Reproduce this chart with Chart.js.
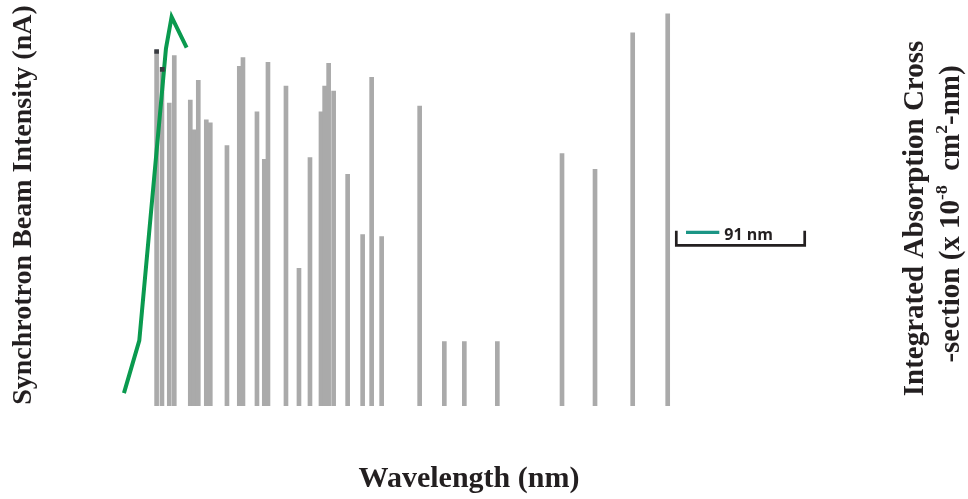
<!DOCTYPE html>
<html><head><meta charset="utf-8">
<script src="https://cdn.jsdelivr.net/npm/chart.js@4.4.1/dist/chart.umd.min.js"></script>
<style>html,body{margin:0;padding:0;background:#fff}#wrap{width:968px;height:499px;position:relative}</style>
</head><body><div id="wrap"><canvas id="c"></canvas></div>
<script>
// Absorption lines: wavelength (nm) and integrated absorption cross-section (x10^-8 cm^2-nm)
const lineWavelengths = [93.6, 95.2, 97.4, 98.9, 103.7, 104.9, 106.1, 108.5, 109.7, 114.7,
  118.4, 119.5, 123.7, 125.9, 127.0, 132.4, 136.3, 139.6, 142.9, 144.0, 145.2, 146.7,
  150.9, 155.4, 158.1, 161.1, 172.5, 179.9, 185.9, 195.8, 215.2, 225.1, 236.4, 246.9];
const crossSections = [35.9, 34.2, 30.6, 35.4, 30.9, 27.9, 32.9, 28.9, 28.6, 26.3,
  34.3, 35.2, 29.7, 24.9, 34.7, 32.3, 13.9, 25.1, 29.7, 32.3, 34.6, 31.8,
  23.4, 17.3, 33.2, 17.1, 30.3, 6.5, 6.5, 6.5, 25.5, 23.9, 37.7, 39.6];
// Synchrotron beam intensity (nA)
const beamWavelengths = [83.8, 88.4, 96.4, 98.1, 102.6];
const beamIntensity = [0.65, 3.3, 18.05, 19.65, 18.1];
// Dark markers on top of two lines
const markerWavelengths = [93.6, 95.3];
const markerValues = [35.8, 34.0];

const xTitle = 'Wavelength (nm)';
const yTitle = 'Synchrotron Beam Intensity (nA)';
const y2TitleLine1 = [{t: 'Integrated Absorption Cross'}];
const y2TitleLine2 = [{t: '-section (x 10'}, {t: '-8', sup: true}, {t: '  cm'}, {t: '2', sup: true}, {t: '-nm)'}];
const legendLabel = '91 nm';

const serif = '"Liberation Serif", "Times New Roman", serif';
const titleColor = '#231f20';

function drawRotatedLine(ctx, parts, baseX, centerY, size, supSize, rise) {
  let total = 0;
  parts.forEach(p => {
    ctx.font = 'bold ' + (p.sup ? supSize : size) + 'px "Liberation Serif"';
    p.w = ctx.measureText(p.t).width;
    total += p.w;
  });
  ctx.save();
  ctx.translate(baseX, centerY);
  ctx.rotate(-Math.PI / 2);
  ctx.textAlign = 'left';
  ctx.textBaseline = 'alphabetic';
  let x = -total / 2;
  parts.forEach(p => {
    ctx.font = 'bold ' + (p.sup ? supSize : size) + 'px "Liberation Serif"';
    ctx.fillText(p.t, x, p.sup ? -rise : 0);
    x += p.w;
  });
  ctx.restore();
}

const overlay = {
  id: 'overlay',
  afterDraw(chart) {
    const ctx = chart.ctx;
    ctx.save();
    // legend entry with bracket
    ctx.strokeStyle = '#1b9585';
    ctx.lineWidth = 3.3;
    ctx.beginPath(); ctx.moveTo(686, 232.3); ctx.lineTo(719.3, 232.3); ctx.stroke();
    ctx.fillStyle = '#231f20';
    ctx.font = 'bold 16px "Open Sans"';
    ctx.textAlign = 'left';
    ctx.textBaseline = 'alphabetic';
    ctx.fillText(legendLabel, 724.3, 240);
    ctx.strokeStyle = '#231f20';
    ctx.lineWidth = 2.7;
    ctx.lineJoin = 'miter';
    ctx.beginPath();
    ctx.moveTo(676.3, 230.7); ctx.lineTo(676.3, 245.3); ctx.lineTo(804.7, 245.3); ctx.lineTo(804.7, 230.7);
    ctx.stroke();
    // right axis title (two lines, rotated)
    ctx.fillStyle = titleColor;
    drawRotatedLine(ctx, y2TitleLine1, 923, 218.5, 29, 17.5, 11.5);
    drawRotatedLine(ctx, y2TitleLine2, 958.5, 214, 29, 17.5, 11.5);
    ctx.restore();
  }
};

new Chart(document.getElementById('c'), {
  type: 'bar',
  data: {
    datasets: [
      {
        type: 'line',
        label: 'Markers',
        data: markerWavelengths.map((w, i) => ({x: w, y: markerValues[i]})),
        yAxisID: 'y1',
        showLine: false,
        pointStyle: 'rect',
        pointRadius: 3.3,
        pointBackgroundColor: '#383b40',
        pointBorderWidth: 0,
        order: 0
      },
      {
        type: 'line',
        label: 'Synchrotron Beam Intensity',
        data: beamWavelengths.map((w, i) => ({x: w, y: beamIntensity[i]})),
        yAxisID: 'y',
        borderColor: '#0a9a4f',
        borderWidth: 4,
        borderJoinStyle: 'miter',
        pointRadius: 0,
        tension: 0,
        fill: false,
        order: 1
      },
      {
        type: 'bar',
        label: 'Integrated Absorption Cross-section',
        data: lineWavelengths.map((w, i) => ({x: w, y: crossSections[i]})),
        yAxisID: 'y1',
        backgroundColor: '#aaaaaa',
        borderWidth: 0,
        barThickness: 4,
        order: 2
      }
    ]
  },
  options: {
    responsive: true,
    maintainAspectRatio: false,
    animation: false,
    events: [],
    layout: {padding: {left: 3, right: 74.6, top: 0, bottom: 2}},
    plugins: {legend: {display: false}, tooltip: {enabled: false}},
    scales: {
      x: {
        type: 'linear', position: 'bottom', min: 60, max: 314.6, offset: false,
        grid: {display: false, drawTicks: false}, border: {display: false},
        ticks: {display: false},
        title: {display: true, text: xTitle, font: {family: serif, size: 30, weight: 'bold'}, color: titleColor, padding: {top: 55, bottom: 0}}
      },
      y: {
        type: 'linear', position: 'left', min: 0, max: 20.3,
        grid: {display: false, drawTicks: false}, border: {display: false},
        ticks: {display: false},
        title: {display: true, text: yTitle, font: {family: serif, size: 28, weight: 'bold'}, color: titleColor, padding: {top: 4, bottom: 4}}
      },
      y1: {type: 'linear', position: 'right', min: 0, max: 40.6, display: false}
    }
  },
  plugins: [overlay]
});
</script></body></html>
